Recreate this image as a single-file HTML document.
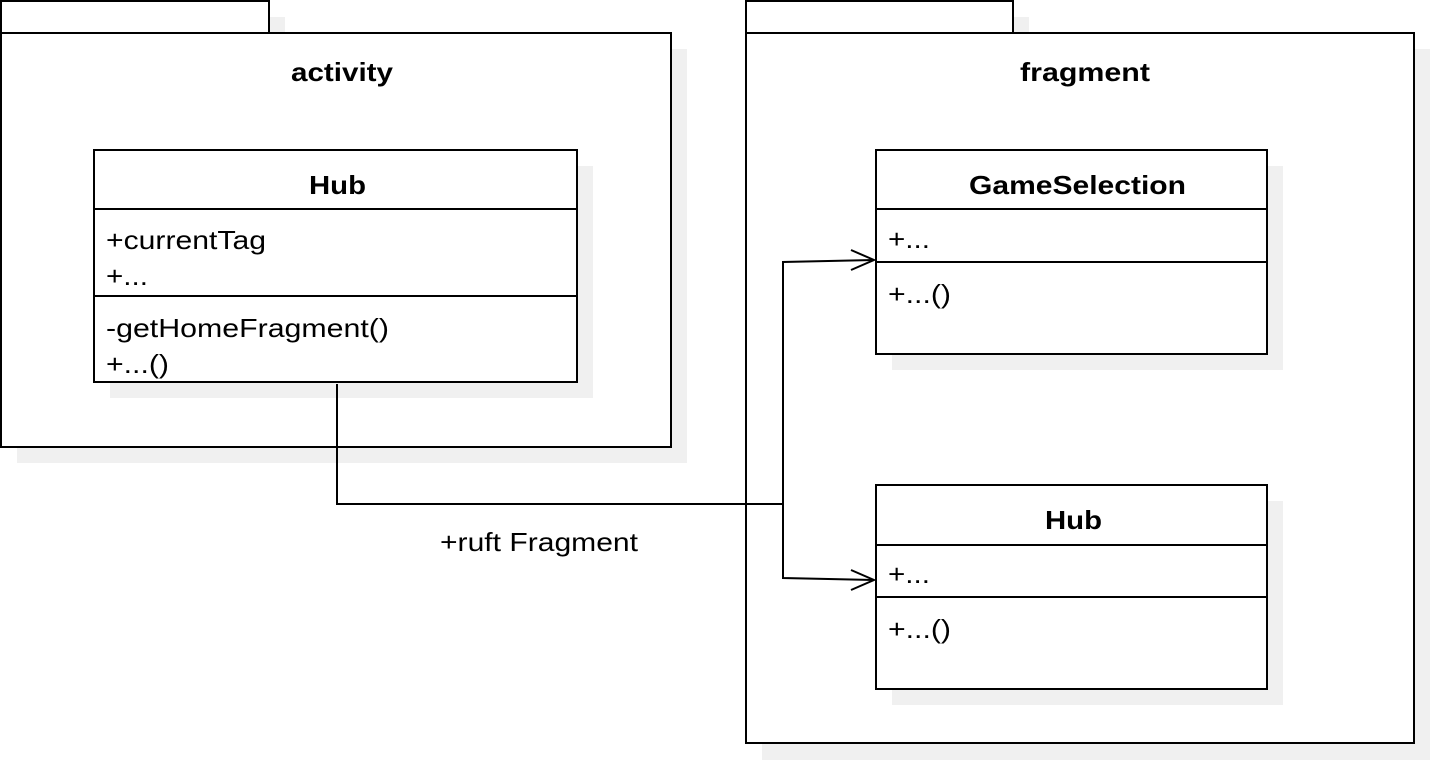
<!DOCTYPE html>
<html><head><style>
body{margin:0;background:#fff;}
</style></head><body>
<svg width="1430" height="760" xmlns="http://www.w3.org/2000/svg" font-family="Liberation Sans, Arial, sans-serif" font-size="26">
<g fill="#f0f0f0">
<rect x="17" y="17" width="268" height="32"/>
<rect x="17" y="49" width="670" height="414"/>
<rect x="762" y="17" width="267" height="32"/>
<rect x="762" y="49" width="668" height="711"/>
</g>
<g fill="#fff" stroke="#000" stroke-width="2">
<rect x="1" y="1" width="268" height="32"/>
<rect x="1" y="33" width="670" height="414"/>
<rect x="746" y="1" width="267" height="32"/>
<rect x="746" y="33" width="668" height="710"/>
</g>
<g fill="#f0f0f0">
<rect x="110" y="166" width="483" height="232"/>
<rect x="892" y="166" width="391" height="204"/>
<rect x="892" y="501" width="391" height="204"/>
</g>
<g fill="#fff" stroke="#000" stroke-width="2">
<rect x="94" y="150" width="483" height="232"/>
<line x1="94" y1="209" x2="577" y2="209"/>
<line x1="94" y1="296" x2="577" y2="296"/>
<rect x="876" y="150" width="391" height="204"/>
<line x1="876" y1="209" x2="1267" y2="209"/>
<line x1="876" y1="262" x2="1267" y2="262"/>
<rect x="876" y="485" width="391" height="204"/>
<line x1="876" y1="545" x2="1267" y2="545"/>
<line x1="876" y1="597" x2="1267" y2="597"/>
</g>
<g font-weight="bold">
<text x="291" y="81" textLength="102" lengthAdjust="spacingAndGlyphs">activity</text>
<text x="1020" y="81" textLength="130" lengthAdjust="spacingAndGlyphs">fragment</text>
<text x="309" y="194" textLength="57" lengthAdjust="spacingAndGlyphs">Hub</text>
<text x="969" y="194" textLength="217" lengthAdjust="spacingAndGlyphs">GameSelection</text>
<text x="1045" y="529" textLength="57" lengthAdjust="spacingAndGlyphs">Hub</text>
</g>
<g>
<text x="106" y="249" textLength="160" lengthAdjust="spacingAndGlyphs">+currentTag</text>
<text x="106" y="285" textLength="42" lengthAdjust="spacingAndGlyphs">+...</text>
<text x="106" y="337" textLength="283" lengthAdjust="spacingAndGlyphs">-getHomeFragment()</text>
<text x="106" y="373" textLength="63" lengthAdjust="spacingAndGlyphs">+...()</text>
<text x="888" y="248" textLength="42" lengthAdjust="spacingAndGlyphs">+...</text>
<text x="888" y="303" textLength="63" lengthAdjust="spacingAndGlyphs">+...()</text>
<text x="888" y="583" textLength="42" lengthAdjust="spacingAndGlyphs">+...</text>
<text x="888" y="638" textLength="63" lengthAdjust="spacingAndGlyphs">+...()</text>
<text x="440" y="551" textLength="198" lengthAdjust="spacingAndGlyphs">+ruft Fragment</text>
</g>
<g fill="none" stroke="#000" stroke-width="2">
<polyline points="337,384 337,504 783,504"/>
<polyline points="874,260 783,262 783,578 874,580"/>
<polyline points="851,250 874,260 851,270"/>
<polyline points="851,570 874,580 851,590"/>
</g>
</svg>
</body></html>
